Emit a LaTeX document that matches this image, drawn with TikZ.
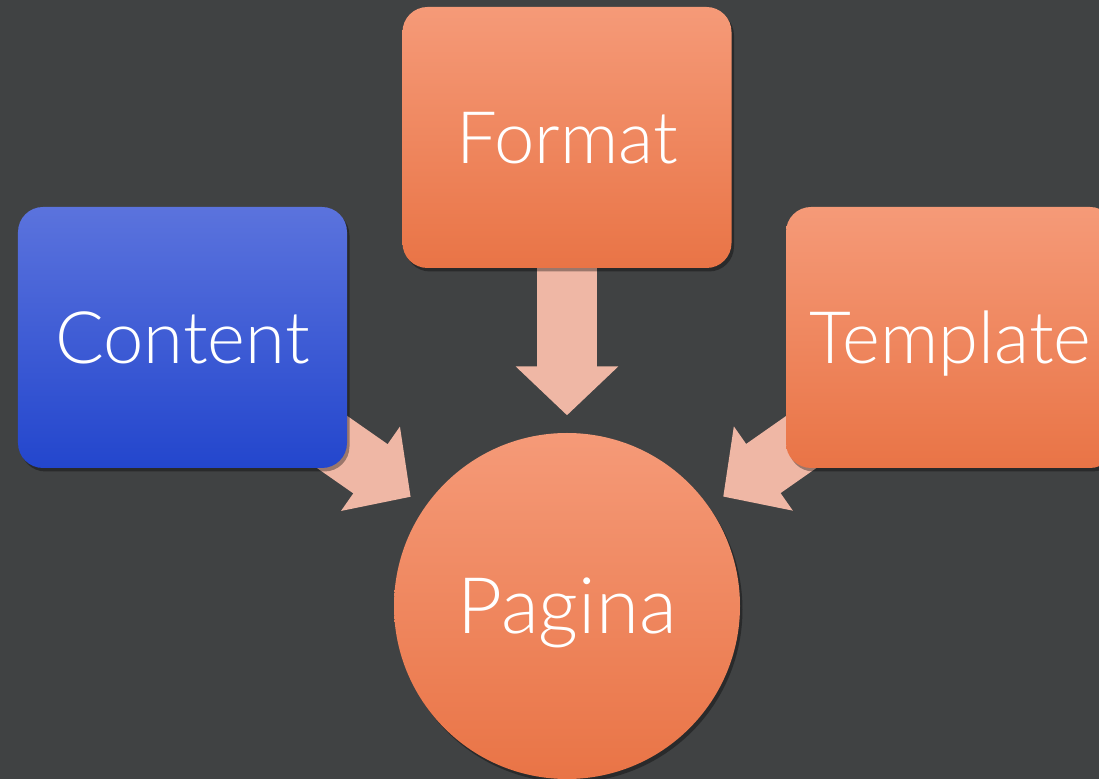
\documentclass[tikz,border=0pt]{standalone}
\usepackage{fontspec}
\setmainfont{Lato Light}
\usetikzlibrary{arrows.meta,shadows,backgrounds}

\definecolor{slate}{HTML}{404243}
\definecolor{bluetop}{HTML}{5B73DD}
\definecolor{bluebot}{HTML}{2346CD}
\definecolor{orangetop}{HTML}{F59A78}
\definecolor{orangebot}{HTML}{E97446}
\definecolor{arrowpink}{HTML}{EFB7A5}

\pgfdeclarelayer{canvas}
\pgfsetlayers{canvas,background,main}

\begin{document}
\begin{tikzpicture}[
    softshadow/.style={drop shadow={fill=black, opacity=0.35,
        shadow xshift=0.025, shadow yshift=-0.035}},
    card/.style={rectangle, rounded corners=0.25cm, minimum width=\Boxw cm,
        minimum height=\Boxh cm, text=white, text height=0.52cm, text depth=0pt,
        font=\fontsize{20.6}{24}\selectfont, softshadow},
    warm/.style={card, top color=orangetop, bottom color=orangebot},
    cool/.style={card, top color=bluetop, bottom color=bluebot},
    bigarrow/.style={draw=arrowpink, line width=0.6cm,
        -{Triangle[width=1cm,length=0.49cm]}, shorten >=0.17cm}
]

% Define the sizes
\def\W{10.99} % picture width
\def\H{7.79} % picture height
\def\Boxw{3.29} % card width
\def\Boxh{2.61} % card height

\useasboundingbox (0,0) rectangle (\W,\H);
\clip (0,0) rectangle (\W,\H);

% Dark backdrop
\begin{pgfonlayer}{canvas}
    \fill[slate] (0,0) rectangle (\W,\H);
\end{pgfonlayer}

% Cards and target
\node[cool] (content) at (1.825,4.415) {Content};
\node[warm] (format) at (5.67,6.415) {Format};
\node[warm] (template) at (9.505,4.415) {Template};
\node[circle, top color=orangetop, bottom color=orangebot, minimum size=3.46cm,
    inner sep=0pt, text=white, text height=0.56cm, text depth=0pt,
    font=\fontsize{22.2}{26}\selectfont, softshadow]
    (pagina) at (5.67,1.73) {Pagina};

% Draw the arrows behind the cards
\begin{scope}[on background layer]
    \foreach \src in {content,format,template} {
        \draw[bigarrow] (\src.center) -- (pagina);
    }
\end{scope}

\end{tikzpicture}
\end{document}
